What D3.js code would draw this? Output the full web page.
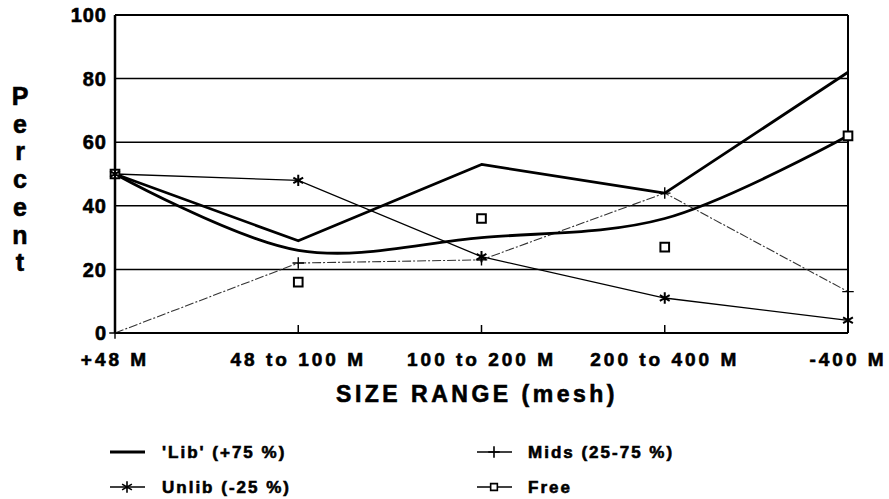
<!DOCTYPE html>
<html>
<head>
<meta charset="utf-8">
<script src="https://cdn.jsdelivr.net/npm/d3@7"></script>
<style>
  html, body { margin: 0; padding: 0; background: #fff; }
  svg { display: block; font-family: "Liberation Sans", Arial, sans-serif; }
  text { stroke: #000; stroke-width: 0.6px; }
</style>
</head>
<body>
<svg id="chart" width="889" height="499"></svg>
<script>
const categories = ["+48 M", "48 to 100 M", "100 to 200 M", "200 to 400 M", "-400 M"]
const yTicks = [0, 20, 40, 60, 80, 100]

// percent values
const lib = [50, 29, 53, 44, 82]
const mids = [0, 22, 23, 44, 13]
const unlib = [50, 48, 24, 11, 4]
const free = [50, 16, 36, 27, 62]
// smoothed line drawn for "Free" (points on the curve at each size class)
const freeCurve = [50, 26, 30, 36, 62]

const legendItems = [
  { label: "'Lib' (+75 %)", key: "lib" },
  { label: "Mids (25-75 %)", key: "mids" },
  { label: "Unlib (-25 %)", key: "unlib" },
  { label: "Free", key: "free" }
]

const plotLeft = 115
const plotRight = 848
const plotTop = 15
const plotBottom = 333

const svg = d3.select("#chart")

const x = d3.scalePoint()
  .domain(categories)
  .range([plotLeft, plotRight])
  .padding(0)

const y = d3.scaleLinear()
  .domain([0, 100])
  .range([plotBottom, plotTop])

// grid lines
svg.append("g")
  .selectAll("line")
  .data(yTicks.filter(t => t > 0))
  .enter()
  .append("line")
  .attr("x1", plotLeft)
  .attr("x2", plotRight)
  .attr("y1", d => y(d))
  .attr("y2", d => y(d))
  .attr("stroke", "#000")
  .attr("stroke-width", d => d === 100 ? 2 : 1.5)

// frame: left axis, bottom axis, right edge
svg.append("line")
  .attr("x1", plotLeft).attr("x2", plotLeft)
  .attr("y1", y(100)).attr("y2", y(0))
  .attr("stroke", "#000").attr("stroke-width", 2.5)
svg.append("line")
  .attr("x1", plotLeft).attr("x2", plotRight)
  .attr("y1", y(0)).attr("y2", y(0))
  .attr("stroke", "#000").attr("stroke-width", 2)
svg.append("line")
  .attr("x1", plotRight).attr("x2", plotRight)
  .attr("y1", y(100)).attr("y2", y(0))
  .attr("stroke", "#000").attr("stroke-width", 2)

// x ticks pointing up
svg.append("g")
  .selectAll("line")
  .data(categories.slice(1, -1))
  .enter()
  .append("line")
  .attr("x1", d => x(d))
  .attr("x2", d => x(d))
  .attr("y1", y(0))
  .attr("y2", y(0) - 8)
  .attr("stroke", "#000")
  .attr("stroke-width", 1.5)

// y tick labels
svg.append("g")
  .selectAll("text")
  .data(yTicks)
  .enter()
  .append("text")
  .attr("x", 107)
  .attr("y", d => y(d))
  .attr("dy", "0.36em")
  .attr("text-anchor", "end")
  .attr("font-size", "20px")
  .attr("font-weight", "bold")
  .attr("letter-spacing", "1px")
  .text(d => d)

// x tick labels
svg.append("g")
  .selectAll("text")
  .data(categories)
  .enter()
  .append("text")
  .attr("x", d => x(d))
  .attr("y", 366)
  .attr("text-anchor", "middle")
  .attr("font-size", "19px")
  .attr("font-weight", "bold")
  .attr("letter-spacing", "3px")
  .text(d => d)

// axis titles
svg.append("text")
  .attr("x", 477)
  .attr("y", 402)
  .attr("text-anchor", "middle")
  .attr("font-size", "23px")
  .attr("font-weight", "bold")
  .attr("letter-spacing", "3.5px")
  .text("SIZE RANGE (mesh)")

svg.append("g")
  .selectAll("text")
  .data("Percent".split(""))
  .enter()
  .append("text")
  .attr("x", 20)
  .attr("y", (d, i) => 96 + i * 27.7)
  .attr("dy", "0.36em")
  .attr("text-anchor", "middle")
  .attr("font-size", "25px")
  .attr("font-weight", "bold")
  .text(d => d)

// series lines
const straight = d3.line()
  .x((d, i) => x(categories[i]))
  .y(d => y(d))

const smooth = d3.line()
  .curve(d3.curveCatmullRom.alpha(0.5))
  .x((d, i) => x(categories[i]))
  .y(d => y(d))

svg.append("path")
  .datum(mids)
  .attr("fill", "none")
  .attr("stroke", "#333")
  .attr("stroke-width", 1.1)
  .attr("stroke-dasharray", "9,2,2,2")
  .attr("d", straight)

svg.append("path")
  .datum(unlib)
  .attr("fill", "none")
  .attr("stroke", "#000")
  .attr("stroke-width", 1.3)
  .attr("d", straight)

svg.append("path")
  .datum(lib)
  .attr("fill", "none")
  .attr("stroke", "#000")
  .attr("stroke-width", 2.8)
  .attr("stroke-linejoin", "round")
  .attr("d", straight)

svg.append("path")
  .datum(freeCurve)
  .attr("fill", "none")
  .attr("stroke", "#000")
  .attr("stroke-width", 2.8)
  .attr("d", smooth)

// markers
const star = d3.symbol(d3.symbolAsterisk, 90)
const plus = d3.symbol(d3.symbolPlus, 45)
const square = d3.symbol(d3.symbolSquare, 75)

function drawMarkers(values, symbol, { fill = "none", width = 1.6 } = {}) {
  svg.append("g")
    .selectAll("path")
    .data(values)
    .enter()
    .append("path")
    .attr("transform", (d, i) => `translate(${x(categories[i])},${y(d)})`)
    .attr("d", symbol)
    .attr("fill", fill)
    .attr("stroke", "#000")
    .attr("stroke-width", width)
}

drawMarkers(mids, plus, { width: 1.4 })
drawMarkers(free, square, { fill: "#fff", width: 2 })
drawMarkers(unlib, star, { width: 2 })

// legend
const legend = svg.append("g")
  .selectAll("g")
  .data(legendItems)
  .enter()
  .append("g")
  .attr("transform", (d, i) => `translate(${i % 2 === 0 ? 110 : 477},${i < 2 ? 452 : 487})`)

legend.append("line")
  .attr("x1", 0)
  .attr("x2", 35)
  .attr("stroke", "#000")
  .attr("stroke-width", d => d.key === "lib" ? 2.8 : 1.6)

legend.filter(d => d.key !== "lib")
  .append("path")
  .attr("transform", "translate(17,0)")
  .attr("d", d => d.key === "mids" ? plus() : d.key === "unlib" ? star() : d3.symbol(d3.symbolSquare, 45)())
  .attr("fill", d => d.key === "free" ? "#fff" : "none")
  .attr("stroke", "#000")
  .attr("stroke-width", 1.6)

legend.append("text")
  .attr("x", d => d.key === "lib" || d.key === "unlib" ? 52 : 51)
  .attr("dy", "0.36em")
  .attr("font-size", "17px")
  .attr("font-weight", "bold")
  .attr("letter-spacing", "2px")
  .text(d => d.label)
</script>
</body>
</html>
